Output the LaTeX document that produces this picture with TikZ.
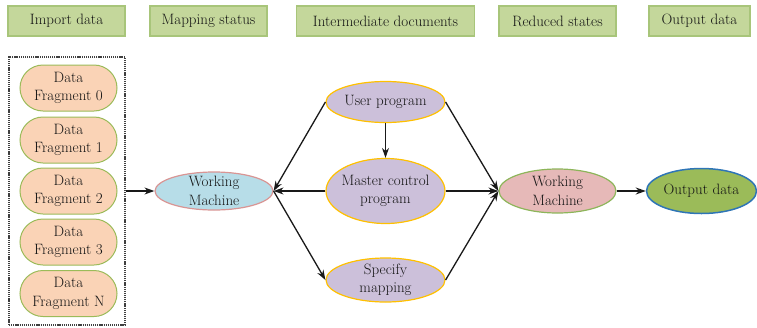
\documentclass[tikz,border=0pt]{standalone}
\usetikzlibrary{shapes.geometric,arrows.meta,positioning}
\definecolor{hdrfill}{HTML}{C4D79B}
\definecolor{hdrline}{HTML}{A8C57A}
\definecolor{fragfill}{HTML}{FAD3B6}
\definecolor{fragline}{HTML}{9BBB59}
\definecolor{wmafill}{HTML}{B7DDE8}
\definecolor{wmaline}{HTML}{D99594}
\definecolor{purfill}{HTML}{CCC0DA}
\definecolor{purline}{HTML}{FFC000}
\definecolor{wmbfill}{HTML}{E6B9B8}
\definecolor{wmbline}{HTML}{8DB55A}
\definecolor{outfill}{HTML}{9BBB59}
\definecolor{outline}{HTML}{2E75B6}
\tikzset{
  txt/.style={font=\fontsize{15}{18.5}\selectfont, align=center, text=black!92},
  hdr/.style={txt, draw=hdrline, fill=hdrfill, line width=1.2pt, minimum height=30pt, inner sep=0pt},
  frag/.style={txt, draw=fragline, fill=fragfill, line width=1pt, rounded corners=23pt, minimum width=97pt, minimum height=46pt, inner sep=0pt},
  ell/.style={ellipse, line width=1.2pt, inner sep=0pt},
  lbl/.style={label={[txt]center:#1}},
  arr/.style={-{Stealth[length=10pt,width=7pt]}, line width=1.3pt, black!90},
}
\begin{document}
\begin{tikzpicture}[x=1pt,y=-1pt]
\useasboundingbox (0,0) rectangle (757,327);
% headers
\node[hdr, minimum width=117pt] (h1) at (66.5,21) {Import data};
\node[hdr, minimum width=117pt] (h2) at (208.5,21) {Mapping status};
\node[hdr, minimum width=178pt] (h3) at (385.5,21) {Intermediate documents};
\node[hdr, minimum width=117pt] (h4) at (557.5,21) {Reduced states};
\node[hdr, minimum width=101pt] (h5) at (699.5,21) {Output data};
% group box
\node[draw=black!75, dash pattern=on 1.2pt off 0.9pt, line width=1.1pt, minimum width=116pt, minimum height=268pt, inner sep=0pt] (grp) at (67,191) {};
% fragments
\node[frag] (f0) at (68.5,88) {Data\\Fragment 0};
\node[frag] (f1) at (68.5,140) {Data\\Fragment 1};
\node[frag] (f2) at (68.5,191) {Data\\Fragment 2};
\node[frag] (f3) at (68.5,242) {Data\\Fragment 3};
\node[frag] (fn) at (68.5,293.5) {Data\\Fragment N};
% working machine 1
\node[ell, draw=wmaline, fill=wmafill, minimum width=118pt, minimum height=38pt, lbl={Working\\Machine}] (wm1) at (214,191) {};
% middle column
\node[ell, draw=purline, fill=purfill, minimum width=119pt, minimum height=41pt, lbl={User program}] (up) at (385.5,102) {};
\node[ell, draw=purline, fill=purfill, minimum width=119pt, minimum height=65pt, lbl={Master control\\program}] (mcp) at (385.5,191) {};
\node[ell, draw=purline, fill=purfill, minimum width=119pt, minimum height=44pt, lbl={Specify\\mapping}] (sm) at (385.5,280) {};
% working machine 2
\node[ell, draw=wmbline, fill=wmbfill, minimum width=117pt, minimum height=44pt, lbl={Working\\Machine}] (wm2) at (557.5,191) {};
% output
\node[ell, draw=outline, fill=outfill, line width=1.5pt, minimum width=110pt, minimum height=45pt, lbl={Output data}] (out) at (701.5,191) {};
% connectors
\draw[arr] (grp.east) -- (wm1.west);
\draw[arr] (up.west) -- (wm1.east);
\draw[arr] (mcp.west) -- (wm1.east);
\draw[arr] (wm1.east) -- (sm.west);
\draw[arr] (up.south) -- (mcp.north);
\draw[arr] (up.east) -- (wm2.west);
\draw[arr] (mcp.east) -- (wm2.west);
\draw[arr] (sm.east) -- (wm2.west);
\draw[arr] (wm2.east) -- (out.west);
\end{tikzpicture}
\end{document}
